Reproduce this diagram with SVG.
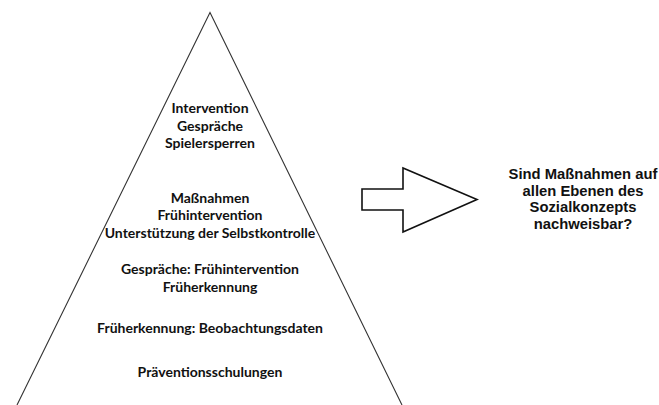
<svg xmlns="http://www.w3.org/2000/svg" width="659" height="405" viewBox="0 0 659 405">
<style>
.pt{font-family:Lato,"Open Sans","Liberation Sans",sans-serif;font-weight:bold;font-size:14px;fill:#111;text-anchor:middle}
.rt{font-family:"Liberation Sans",Arial,sans-serif;font-weight:bold;font-size:14.8px;fill:#111;text-anchor:middle}
.edge{fill:none;stroke:#333;stroke-width:1.1}
</style>
<rect width="659" height="405" fill="#fff"/>
<g id="pyramid">
<path class="edge" d="M17,405 L210,12.5 L402,405"/>
<text class="pt" x="210" y="113">Intervention</text>
<text class="pt" x="210" y="130.5">Gespräche</text>
<text class="pt" x="210" y="148">Spielersperren</text>
<text class="pt" x="210" y="203">Maßnahmen</text>
<text class="pt" x="210" y="220">Frühintervention</text>
<text class="pt" x="210" y="237.5">Unterstützung der Selbstkontrolle</text>
<text class="pt" x="210" y="274">Gespräche: Frühintervention</text>
<text class="pt" x="210" y="292">Früherkennung</text>
<text class="pt" x="210" y="333">Früherkennung: Beobachtungsdaten</text>
<text class="pt" x="210" y="377">Präventionsschulungen</text>
</g>
<g id="arrow">
<polygon points="362,189 403,189 403,168 477,199.5 403,232 403,210 362,210" fill="#fff" stroke="#111" stroke-width="1.6" stroke-linejoin="miter"/>
</g>
<g id="question">
<text class="rt" x="583" y="179">Sind Maßnahmen auf</text>
<text class="rt" x="583" y="195.5">allen Ebenen des</text>
<text class="rt" x="583" y="212">Sozialkonzepts</text>
<text class="rt" x="583" y="228.5">nachweisbar?</text>
</g>
</svg>
